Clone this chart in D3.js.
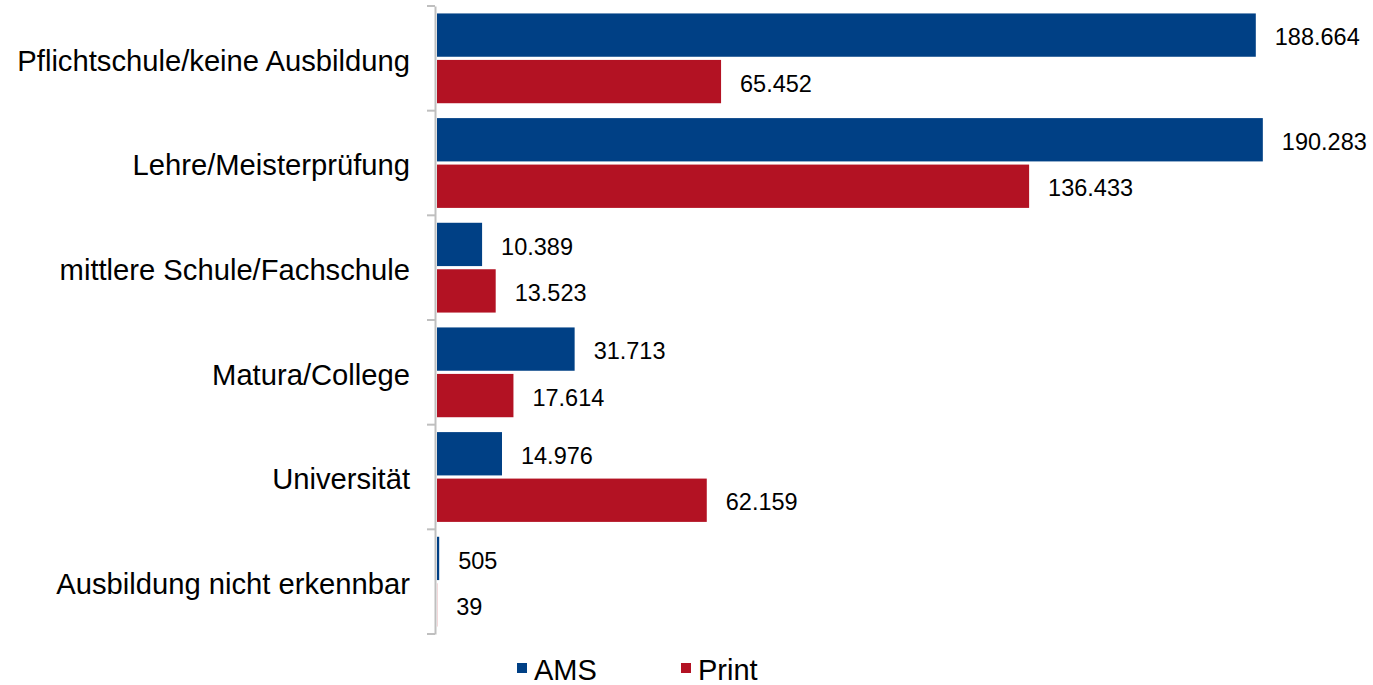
<!DOCTYPE html>
<html>
<head>
<meta charset="utf-8">
<script src="https://cdn.jsdelivr.net/npm/d3@7"></script>
<style>
  body { margin: 0; background: #fff; }
  text { font-family: "Liberation Sans", Arial, sans-serif; fill: #000; }
</style>
</head>
<body>
<svg id="chart"></svg>
<script>
// categories and values
const categories = [
  "Pflichtschule/keine Ausbildung",
  "Lehre/Meisterprüfung",
  "mittlere Schule/Fachschule",
  "Matura/College",
  "Universität",
  "Ausbildung nicht erkennbar"
];
const amsValues = [188664, 190283, 10389, 31713, 14976, 505];
const printValues = [65452, 136433, 13523, 17614, 62159, 39];
const seriesNames = ["AMS", "Print"];
const seriesColors = ["#004085", "#B31223"];

const W = 1373, H = 685;

const svg = d3.select("#chart")
  .attr("width", W)
  .attr("height", H);

const x = d3.scaleLinear()
  .domain([0, 200000])
  .range([437, 437 + 868]);

const y = d3.scaleBand()
  .domain(categories)
  .range([6, 634])
  .paddingInner(0)
  .paddingOuter(0);

const sub = d3.scaleBand()
  .domain(seriesNames)
  .range([0, y.bandwidth()])
  .paddingInner(0.068)
  .paddingOuter(0.16);

const rows = categories.map((c, i) => ({
  cat: c,
  vals: [amsValues[i], printValues[i]]
}));

// bars
const grp = svg.append("g").selectAll("g")
  .data(rows)
  .enter()
  .append("g")
  .attr("transform", d => `translate(0,${y(d.cat)})`);

grp.selectAll("rect")
  .data(d => d.vals.map((v, j) => ({ v: v, s: seriesNames[j], c: seriesColors[j] })))
  .enter()
  .append("rect")
  .attr("x", x(0))
  .attr("y", d => sub(d.s))
  .attr("width", d => x(d.v) - x(0))
  .attr("height", sub.bandwidth())
  .attr("fill", d => d.c);

// value labels
const fmt = d3.formatLocale({ decimal: ",", thousands: ".", grouping: [3], currency: ["", ""] }).format(",d");

grp.selectAll("text")
  .data(d => d.vals.map((v, j) => ({ v: v, s: seriesNames[j] })))
  .enter()
  .append("text")
  .attr("x", d => x(d.v) + 19)
  .attr("y", d => sub(d.s) + sub.bandwidth() / 2 + 2)
  .attr("dy", "0.35em")
  .attr("font-size", 23.5)
  .text(d => fmt(d.v));

// category axis
const axis = d3.axisLeft(y)
  .tickValues([])
  .tickSizeOuter(0);

const axG = svg.append("g")
  .attr("transform", `translate(${x(0) - 2},0)`)
  .call(axis);
axG.select(".domain").attr("stroke", "#bfbfbf").attr("stroke-width", 2);

// tick marks at band boundaries
const bounds = categories.map(c => y(c)).concat([y.range()[1]]);
axG.selectAll(".bnd")
  .data(bounds)
  .enter()
  .append("line")
  .attr("x1", -8)
  .attr("x2", 0)
  .attr("y1", d => d)
  .attr("y2", d => d)
  .attr("stroke", "#bfbfbf")
  .attr("stroke-width", 2);

svg.append("g").selectAll("text")
  .data(categories)
  .enter()
  .append("text")
  .attr("x", 410)
  .attr("y", d => y(d) + y.bandwidth() / 2 + 2)
  .attr("dy", "0.35em")
  .attr("text-anchor", "end")
  .attr("font-size", 29.2)
  .text(d => d);

// legend
const legX = [517, 681];
const leg = svg.append("g").selectAll("g")
  .data(seriesNames)
  .enter()
  .append("g")
  .attr("transform", (d, i) => `translate(${legX[i]},663)`);

leg.append("rect")
  .attr("width", 10)
  .attr("height", 10)
  .attr("fill", (d, i) => seriesColors[i]);

leg.append("text")
  .attr("x", 17)
  .attr("y", 7)
  .attr("dy", "0.35em")
  .attr("font-size", 29)
  .text(d => d);
</script>
</body>
</html>
